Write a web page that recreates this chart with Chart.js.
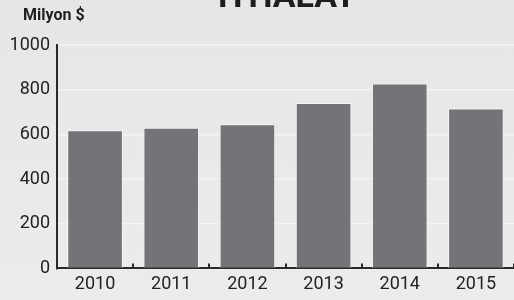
<!DOCTYPE html>
<html>
<head>
<meta charset="utf-8">
<script src="https://cdn.jsdelivr.net/npm/chart.js@4"></script>
<style>
  html, body { margin: 0; padding: 0; }
  body { width: 514px; height: 300px; background: linear-gradient(to bottom, #e6e6e7, #ececed); overflow: hidden; }
  #wrap { position: relative; width: 514px; height: 300px; }
</style>
</head>
<body>
<div id="wrap"><canvas id="c" width="514" height="300"></canvas></div>
<script>
const years = ['2010', '2011', '2012', '2013', '2014', '2015']
const imports = [618, 630, 645, 740, 828, 716]
const yTicks = [0, 200, 400, 600, 800, 1000]
const chartTitle = 'İTHALAT'
const unitLabel = 'Milyon $'

const FONT = 'Roboto, "Liberation Sans", sans-serif'

// title (cut off at top), unit label and the small inner ticks on the x axis
const decor = {
    id: 'decor',
    afterDraw(chart) {
        const c = chart.ctx
        const x = chart.scales.x
        const area = chart.chartArea
        c.save()
        c.fillStyle = '#1e1e1e'
        c.font = 'bold 34px ' + FONT
        c.textAlign = 'center'
        c.textBaseline = 'alphabetic'
        c.fillText(chartTitle, 287, 7)
        c.font = 'bold 16px ' + FONT
        c.textAlign = 'left'
        c.fillText(unitLabel, 23, 20)
        c.strokeStyle = '#2a2a2a'
        c.lineWidth = 2
        for (let i = 0; i < years.length; i++) {
            let px = Math.round(x.getPixelForValue(i + 0.5))
            c.beginPath()
            c.moveTo(px, area.bottom)
            c.lineTo(px, area.bottom - 5)
            c.stroke()
        }
        c.restore()
    }
}

new Chart(document.getElementById('c'), {
    type: 'bar',
    data: {
        labels: years,
        datasets: [{
            data: imports,
            backgroundColor: '#737478',
            borderColor: 'rgba(250,250,250,0.7)',
            borderWidth: 1,
            barPercentage: 0.73,
            categoryPercentage: 1
        }]
    },
    options: {
        responsive: false,
        animation: false,
        devicePixelRatio: 1,
        layout: { padding: { top: 45, left: 0, right: 0, bottom: 0 } },
        plugins: {
            legend: { display: false },
            tooltip: { enabled: false }
        },
        scales: {
            x: {
                grid: { display: false, drawTicks: false },
                border: { color: '#2a2a2a', width: 2 },
                ticks: { color: '#222', font: { family: FONT, size: 18 }, padding: 5, maxRotation: 0 }
            },
            y: {
                min: 0,
                max: 1000,
                afterFit: s => { s.width = 57 },
                afterBuildTicks: s => { s.ticks = yTicks.map(v => ({ value: v })) },
                grid: { color: '#f4f4f4', lineWidth: 1.5, drawTicks: false },
                border: { color: '#2a2a2a', width: 2 },
                ticks: { color: '#222', font: { family: FONT, size: 18 }, padding: 7, callback: v => String(v) }
            }
        }
    },
    plugins: [decor]
})
</script>
</body>
</html>
